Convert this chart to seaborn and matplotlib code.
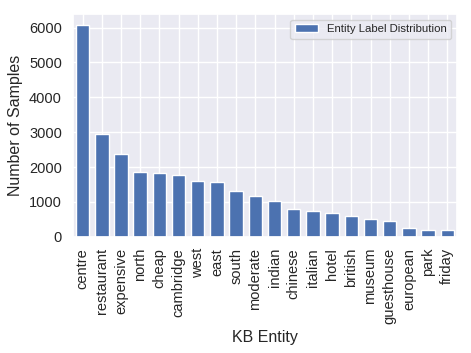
import matplotlib
matplotlib.use("Agg")
import matplotlib.pyplot as plt
import seaborn as sns
import pandas as pd

entities = ["centre", "restaurant", "expensive", "north", "cheap", "cambridge", "west",
            "east", "south", "moderate", "indian", "chinese", "italian", "hotel", "british",
            "museum", "guesthouse", "european", "park", "friday"]
counts = [6080, 2940, 2370, 1860, 1825, 1760, 1600, 1585, 1320, 1175, 1030, 800, 745,
          690, 600, 515, 460, 240, 200, 200]

sns.set_theme(style="darkgrid")
plt.rcParams["font.family"] = ["Liberation Sans", "DejaVu Sans"]
df = pd.DataFrame({"entity": entities, "count": counts})

fig = plt.figure(figsize=(4.71, 3.53), dpi=100)
ax = fig.add_axes([0.155, 0.329, 0.815, 0.631])
sns.barplot(data=df, x="entity", y="count", color="#4c72b0", saturation=1,
            width=0.7, label="Entity Label Distribution", ax=ax)
ax.grid(True, axis="both")
ax.set_axisbelow(True)
ax.set_xlim(-0.5, len(entities) - 0.5)
ax.set_ylim(0, max(counts) * 1.05)
ax.set_xlabel("KB Entity", fontsize=11.5)
ax.set_ylabel("Number of Samples", fontsize=11.5)
ax.tick_params(axis="x", labelrotation=90, labelsize=10.5, pad=2)
ax.tick_params(axis="y", labelsize=10.5, pad=2)
ax.legend(loc="upper right", fontsize=8.2)
fig.savefig("out.png", dpi=100)
